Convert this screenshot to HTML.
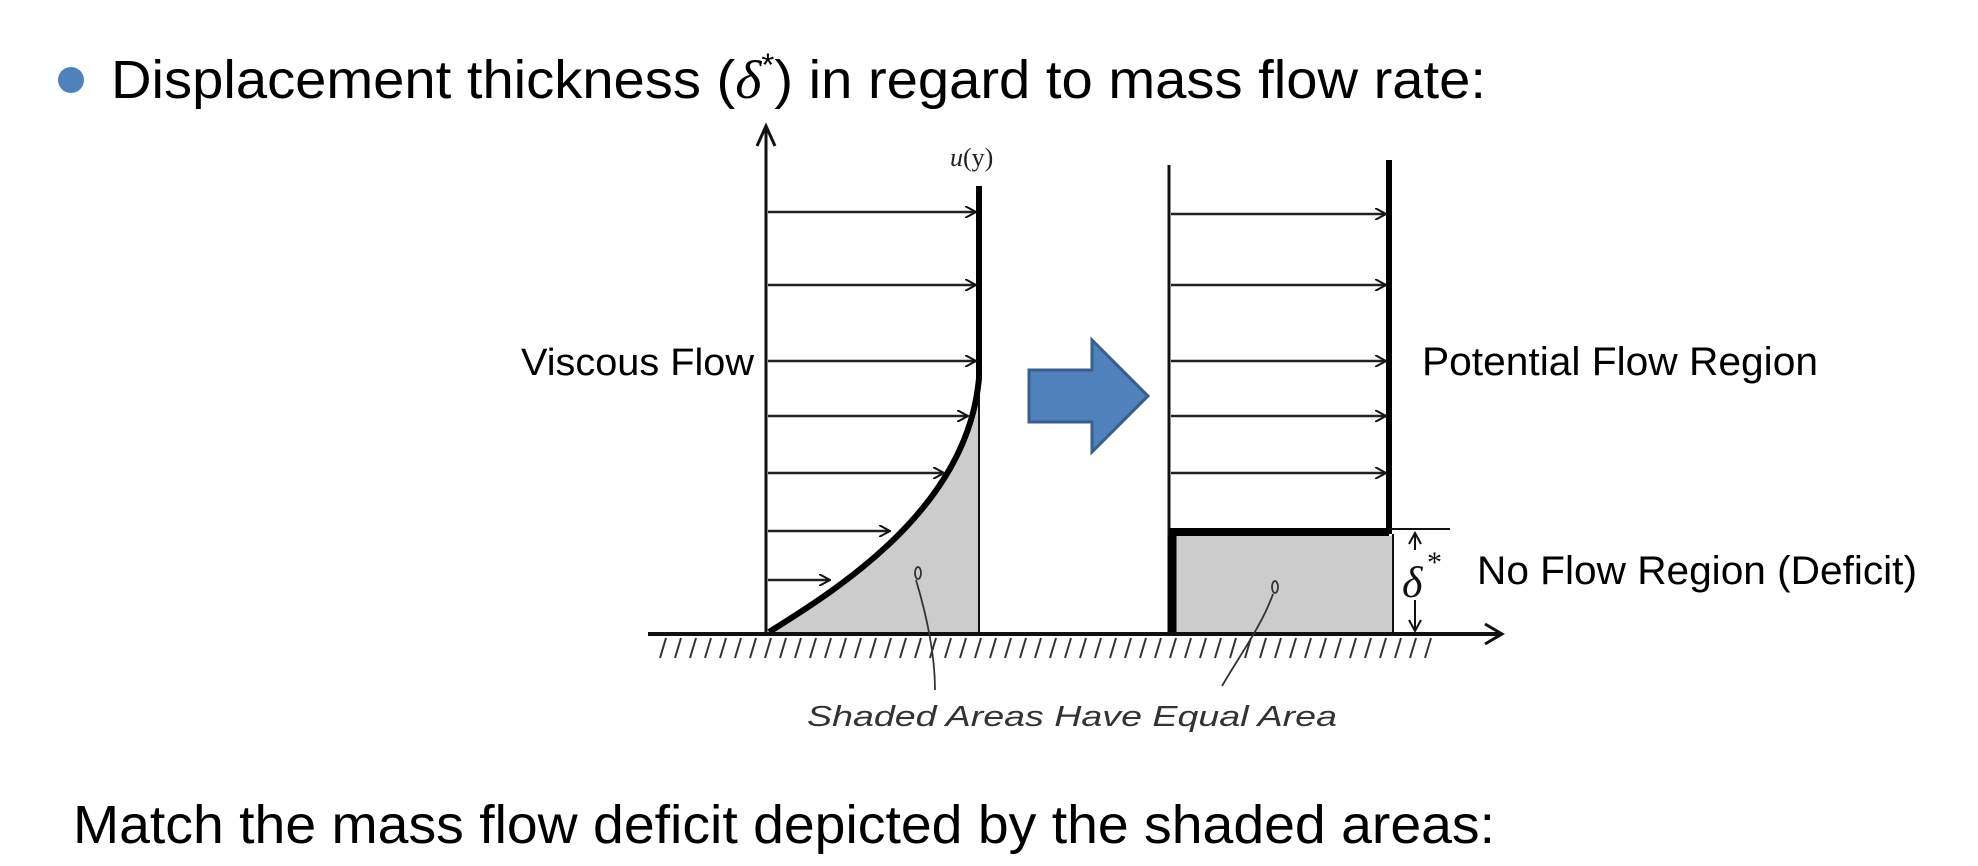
<!DOCTYPE html>
<html><head><meta charset="utf-8"><style>
html,body{margin:0;padding:0;background:#fff;width:1978px;height:866px;overflow:hidden}
svg{display:block}
.t{font-family:"Liberation Sans",sans-serif;fill:#000}
</style></head><body>
<svg width="1978" height="866" viewBox="0 0 1978 866" xmlns="http://www.w3.org/2000/svg">
<defs>
<marker id="ah" markerWidth="12" markerHeight="12" refX="11" refY="6" orient="auto" markerUnits="userSpaceOnUse">
<path d="M0,0 L11,6 L0,12" fill="none" stroke="#111" stroke-width="2"/>
</marker>
</defs>
<circle cx="71" cy="80" r="13" fill="#4f81bd"/>
<text class="t" x="111" y="98" font-size="54" textLength="1375" lengthAdjust="spacingAndGlyphs">Displacement thickness (<tspan font-family="Liberation Serif" font-style="italic">δ</tspan><tspan font-size="32" dy="-22">*</tspan><tspan dy="22">) in regard to mass flow rate:</tspan></text>

<path d="M769,632 C845,585 968,505 979,378 L979,632 Z" fill="#cccccc"/>
<rect x="1175" y="536" width="218" height="96" fill="#cccccc"/>

<line x1="766" y1="632" x2="766" y2="128" stroke="#111" stroke-width="3"/>
<path d="M757,146 L766,126 L775,146" fill="none" stroke="#111" stroke-width="3"/>
<text x="950" y="166" font-family="Liberation Serif" font-style="italic" font-size="26" fill="#222">u<tspan font-style="normal">(y)</tspan></text>
<line x1="979" y1="188" x2="979" y2="632" stroke="#111" stroke-width="2"/>
<path d="M979,186 L979,378 C968,505 845,585 769,632" fill="none" stroke="#000" stroke-width="6"/>
<g stroke="#222" stroke-width="2.5" marker-end="url(#ah)">
<line x1="768" y1="212" x2="976" y2="212"/>
<line x1="768" y1="285" x2="976" y2="285"/>
<line x1="768" y1="361" x2="976" y2="361"/>
<line x1="768" y1="416" x2="968" y2="416"/>
<line x1="768" y1="473" x2="944" y2="473"/>
<line x1="768" y1="531" x2="890" y2="531"/>
<line x1="768" y1="580" x2="830" y2="580"/>
</g>
<text class="t" x="521" y="375" font-size="38" textLength="233" lengthAdjust="spacingAndGlyphs">Viscous Flow</text>

<path d="M1029,370 L1092,370 L1092,340 L1148,396 L1092,452 L1092,422 L1029,422 Z" fill="#4f81bd" stroke="#3a5f8f" stroke-width="3"/>

<line x1="1169" y1="165" x2="1169" y2="632" stroke="#111" stroke-width="3"/>
<line x1="1172" y1="536" x2="1172" y2="632" stroke="#000" stroke-width="9"/>
<line x1="1389" y1="160" x2="1389" y2="534" stroke="#000" stroke-width="6"/>
<line x1="1393" y1="534" x2="1393" y2="632" stroke="#111" stroke-width="2"/>
<g stroke="#222" stroke-width="2.5" marker-end="url(#ah)">
<line x1="1171" y1="214" x2="1386" y2="214"/>
<line x1="1171" y1="285" x2="1386" y2="285"/>
<line x1="1171" y1="361" x2="1386" y2="361"/>
<line x1="1171" y1="416" x2="1386" y2="416"/>
<line x1="1171" y1="473" x2="1386" y2="473"/>
</g>
<line x1="1169" y1="532" x2="1389" y2="532" stroke="#000" stroke-width="8"/>
<line x1="1389" y1="529" x2="1450" y2="529" stroke="#111" stroke-width="2"/>
<line x1="1415" y1="534" x2="1415" y2="630" stroke="#111" stroke-width="2"/>
<path d="M1409,544 L1415,533 L1421,544 M1409,620 L1415,631 L1421,620" fill="none" stroke="#111" stroke-width="2"/>
<rect x="1406" y="550" width="20" height="50" fill="#fff"/>
<text x="1402" y="597" font-family="Liberation Serif" font-style="italic" font-size="44" fill="#111">δ</text>
<text x="1427" y="572" font-family="Liberation Serif" font-size="30" fill="#111">*</text>
<text class="t" x="1477" y="584" font-size="40" textLength="440" lengthAdjust="spacingAndGlyphs">No Flow Region (Deficit)</text>
<text class="t" x="1422" y="375" font-size="40" textLength="396" lengthAdjust="spacingAndGlyphs">Potential Flow Region</text>

<line x1="648" y1="634" x2="1500" y2="634" stroke="#111" stroke-width="4"/>
<path d="M1485,624 L1502,634 L1485,644" fill="none" stroke="#111" stroke-width="3"/>
<g stroke="#333" stroke-width="2">
<path d="M660,658 l6,-20 M675,658 l6,-20 M690,658 l6,-20 M705,658 l6,-20 M720,658 l6,-20 M735,658 l6,-20 M750,658 l6,-20 M765,658 l6,-20 M780,658 l6,-20 M795,658 l6,-20 M810,658 l6,-20 M825,658 l6,-20 M840,658 l6,-20 M855,658 l6,-20 M870,658 l6,-20 M885,658 l6,-20 M900,658 l6,-20 M915,658 l6,-20 M930,658 l6,-20 M945,658 l6,-20 M960,658 l6,-20 M975,658 l6,-20 M990,658 l6,-20 M1005,658 l6,-20 M1020,658 l6,-20 M1035,658 l6,-20 M1050,658 l6,-20 M1065,658 l6,-20 M1080,658 l6,-20 M1095,658 l6,-20 M1110,658 l6,-20 M1125,658 l6,-20 M1140,658 l6,-20 M1155,658 l6,-20 M1170,658 l6,-20 M1185,658 l6,-20 M1200,658 l6,-20 M1215,658 l6,-20 M1230,658 l6,-20 M1245,658 l6,-20 M1260,658 l6,-20 M1275,658 l6,-20 M1290,658 l6,-20 M1305,658 l6,-20 M1320,658 l6,-20 M1335,658 l6,-20 M1350,658 l6,-20 M1365,658 l6,-20 M1380,658 l6,-20 M1395,658 l6,-20 M1410,658 l6,-20 M1425,658 l6,-20"/>
</g>
<g stroke="#333" stroke-width="1.8" fill="none">
<ellipse cx="918" cy="573" rx="3" ry="6"/>
<path d="M916,580 C925,610 935,650 935,690"/>
<ellipse cx="1275" cy="587" rx="3" ry="6"/>
<path d="M1273,594 C1262,625 1240,655 1222,686"/>
</g>
<text x="807" y="726" font-family="Liberation Sans" font-style="italic" font-size="29" fill="#333" textLength="530" lengthAdjust="spacingAndGlyphs">Shaded Areas Have Equal Area</text>

<text class="t" x="73" y="843" font-size="54" textLength="1422" lengthAdjust="spacingAndGlyphs">Match the mass flow deficit depicted by the shaded areas:</text>
</svg>
</body></html>
